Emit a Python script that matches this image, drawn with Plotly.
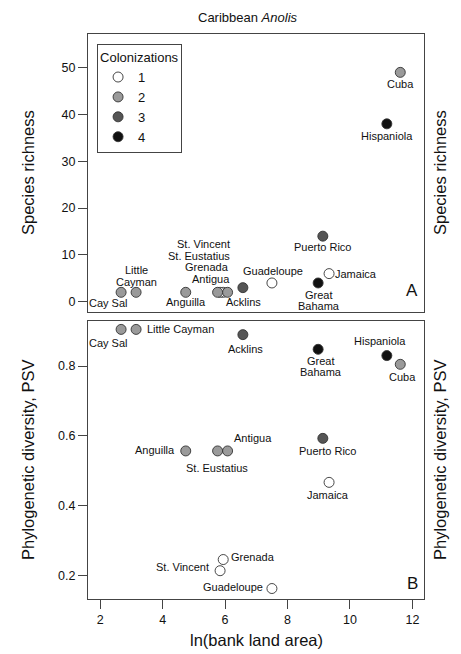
import plotly.graph_objects as go

# ---------------- data ----------------
islands = ["Cuba", "Hispaniola", "Puerto Rico", "Jamaica", "Great Bahama", "Acklins",
           "Guadeloupe", "Antigua", "St. Eustatius", "Grenada", "St. Vincent",
           "Anguilla", "Little Cayman", "Cay Sal"]
ln_area = [11.61, 11.18, 9.13, 9.33, 8.98, 6.57, 7.50, 6.08, 5.76, 5.94, 5.84, 4.74, 3.15, 2.67]
richness = [49, 38, 14, 6, 4, 3, 4, 2, 2, 2, 2, 2, 2, 2]
psv = [0.805, 0.830, 0.593, 0.467, 0.848, 0.890, 0.163, 0.557, 0.557, 0.246, 0.214, 0.557, 0.905, 0.905]
colonizations = [2, 4, 3, 1, 4, 3, 1, 2, 2, 1, 1, 2, 2, 2]

col_levels = [1, 2, 3, 4]
x_ticks = [2, 4, 6, 8, 10, 12]
y1_ticks = [0, 10, 20, 30, 40, 50]
y2_ticks = [0.2, 0.4, 0.6, 0.8]

# ---------------- styles ----------------
FONT = "Liberation Sans, Arial, Helvetica, sans-serif"
fill = {1: "#ffffff", 2: "#9a9a9a", 3: "#555555", 4: "#111111"}
AX = "#444444"

# label placement: (lines, xanchor, xshift, yshift per line)
top_lab = {
    "Cuba": (["Cuba"], "center", 0, [-12]),
    "Hispaniola": (["Hispaniola"], "center", 0, [-12]),
    "Puerto Rico": (["Puerto Rico"], "center", 0, [-11]),
    "Jamaica": (["Jamaica"], "left", 5, [0]),
    "Great Bahama": (["Great", "Bahama"], "center", 1, [-12, -23.5]),
    "Acklins": (["Acklins"], "center", 1, [-14]),
    "Guadeloupe": (["Guadeloupe"], "center", 1, [11.6]),
    "Antigua": (["Antigua"], "right", 3, [13.7]),
    "Grenada": (["Grenada"], "right", 7, [25.2]),
    "St. Eustatius": (["St. Eustatius"], "right", 13, [36.6]),
    "St. Vincent": (["St. Vincent"], "right", 10.5, [48]),
    "Anguilla": (["Anguilla"], "center", 0, [-9.5]),
    "Little Cayman": (["Little", "Cayman"], "center", 0, [22.4, 10.7]),
    "Cay Sal": (["Cay Sal"], "center", -12.5, [-10.3]),
}
bot_lab = {
    "Cuba": (["Cuba"], "center", 2.4, [-13]),
    "Hispaniola": (["Hispaniola"], "center", -7.3, [14.7]),
    "Puerto Rico": (["Puerto Rico"], "center", 5, [-12.7]),
    "Jamaica": (["Jamaica"], "center", -1, [-12.3]),
    "Great Bahama": (["Great", "Bahama"], "center", 2.5, [-11.4, -22.6]),
    "Acklins": (["Acklins"], "center", 2.3, [-14]),
    "Guadeloupe": (["Guadeloupe"], "right", -8, [1.3]),
    "Antigua": (["Antigua"], "left", 5, [13.4]),
    "St. Eustatius": (["St. Eustatius"], "center", -0.6, [-16.6]),
    "Grenada": (["Grenada"], "left", 7, [2.3]),
    "St. Vincent": (["St. Vincent"], "right", -10.5, [3.3]),
    "Anguilla": (["Anguilla"], "right", -10, [1.4]),
    "Little Cayman": (["Little Cayman"], "left", 9.5, [0]),
    "Cay Sal": (["Cay Sal"], "center", -12.7, [-13.4]),
}

fig = go.Figure()

for panel, (yvals, xa, ya) in enumerate([(richness, "x", "y"), (psv, "x2", "y2")]):
    for lev in col_levels:
        idx = [i for i, c in enumerate(colonizations) if c == lev]
        fig.add_trace(go.Scatter(
            x=[ln_area[i] for i in idx], y=[yvals[i] for i in idx],
            mode="markers", name=str(lev), xaxis=xa, yaxis=ya,
            showlegend=(panel == 0), hoverinfo="skip",
            marker=dict(size=10, color=fill[lev], line=dict(color="#333333", width=0.9)),
        ))

annotations = []
for i, name in enumerate(islands):
    for (labs, xa, ya, yvals) in [(top_lab, "x", "y", richness), (bot_lab, "x2", "y2", psv)]:
        lines, anchor, xs, yss = labs[name]
        for line, ys in zip(lines, yss):
            annotations.append(dict(
                x=ln_area[i], y=yvals[i], xref=xa, yref=ya, text=line, showarrow=False,
                xanchor=anchor, yanchor="middle", xshift=xs, yshift=ys,
                font=dict(family=FONT, size=11, color="#111111"), borderpad=0,
            ))

# panel letters
annotations.append(dict(x=0.987, y=0.079, xref="x domain", yref="y domain", text="A",
                        showarrow=False, xanchor="right", yanchor="middle",
                        font=dict(family=FONT, size=17, color="#111111")))
annotations.append(dict(x=0.987, y=0.054, xref="x2 domain", yref="y2 domain", text="B",
                        showarrow=False, xanchor="right", yanchor="middle",
                        font=dict(family=FONT, size=17, color="#111111")))

# axis titles
for yref, txt in [("y domain", "Species richness"), ("y2 domain", "Phylogenetic diversity, PSV")]:
    annotations.append(dict(x=0, y=0.5, xref="paper", yref=yref, text=txt, showarrow=False,
                            textangle=-90, xanchor="center", yanchor="middle", xshift=-60,
                            font=dict(family=FONT, size=16.5, color="#111111")))
    annotations.append(dict(x=1, y=0.5, xref="paper", yref=yref, text=txt, showarrow=False,
                            textangle=-90, xanchor="center", yanchor="middle", xshift=16,
                            font=dict(family=FONT, size=16.5, color="#111111")))
annotations.append(dict(x=0.5, y=0, xref="x2 domain", yref="paper", text="ln(bank land area)",
                        showarrow=False, xanchor="center", yanchor="middle", yshift=-41,
                        font=dict(family=FONT, size=16.5, color="#111111")))
annotations.append(dict(x=0.5, y=1, xref="paper", yref="paper", text="Caribbean <i>Anolis</i>",
                        showarrow=False, xanchor="center", yanchor="middle", yshift=17, xshift=-8,
                        font=dict(family=FONT, size=13, color="#111111")))

common_x = dict(range=[1.61, 12.37], showgrid=False, zeroline=False, showline=True,
                mirror=True, linecolor=AX, linewidth=1)
common_y = dict(showgrid=False, zeroline=False, showline=True, mirror=True,
                linecolor=AX, linewidth=1, ticks="outside", ticklen=9, tickcolor=AX,
                tickfont=dict(family=FONT, size=12.5, color="#111111"))

fig.update_layout(
    width=461, height=654,
    margin=dict(l=88, r=37, t=34, b=55),
    paper_bgcolor="white", plot_bgcolor="white",
    xaxis=dict(**common_x, domain=[0, 1], anchor="y", showticklabels=False, ticks=""),
    yaxis=dict(**common_y, domain=[0.508, 1], anchor="x", range=[-2.2, 57.2], tickvals=y1_ticks),
    xaxis2=dict(**common_x, domain=[0, 1], anchor="y2", matches="x", tickvals=x_ticks,
                ticks="outside", ticklen=9, tickcolor=AX,
                tickfont=dict(family=FONT, size=12.5, color="#111111")),
    yaxis2=dict(**common_y, domain=[0, 0.492], anchor="x2", range=[0.133, 0.929],
                tickvals=y2_ticks, tickformat=".1f"),
    legend=dict(x=0.027, y=0.982, xanchor="left", yanchor="top",
                bordercolor=AX, borderwidth=1, bgcolor="white",
                title=dict(text="Colonizations", font=dict(family=FONT, size=13, color="#111111")),
                font=dict(family=FONT, size=13, color="#111111"), itemwidth=30),
    annotations=annotations,
    font=dict(family=FONT),
)

fig.write_html("out.html")
